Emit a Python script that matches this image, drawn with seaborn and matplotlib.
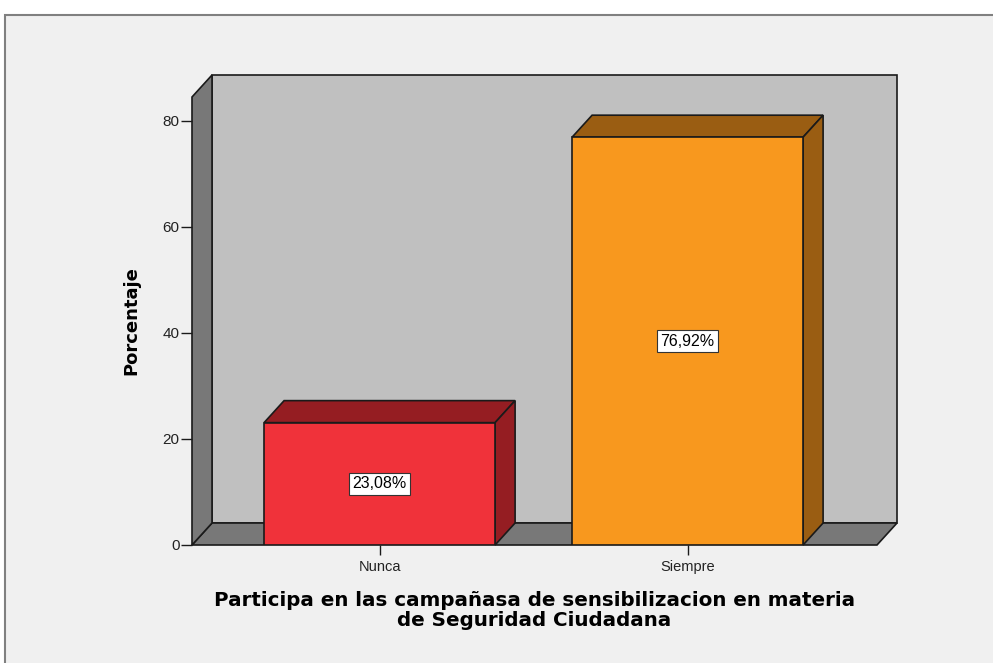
import numpy as np
import pandas as pd
import seaborn as sns
import matplotlib.pyplot as plt
from matplotlib.patches import Polygon, Rectangle

# Data
categories = ["Nunca", "Siempre"]
percentages = [23.08, 76.92]
front_colors = ["#F0323A", "#F8981E"]
dark_colors = ["#951D22", "#9A5D12"]
y_ticks = [0, 20, 40, 60, 80]

df = pd.DataFrame({"cat": categories, "pct": percentages})

sns.set_style("white")
plt.rcParams["font.family"] = ["Liberation Sans", "DejaVu Sans"]

fig = plt.figure(figsize=(9.93, 6.63), dpi=100, facecolor="white")

# outer SPSS-like frame
frame = Rectangle((5 / 993, -0.1), 1.2, (663 - 15) / 663 + 0.1,
                  transform=fig.transFigure, facecolor="#F0F0F0",
                  edgecolor="#808080", linewidth=1.5, zorder=-5)
fig.add_artist(frame)

ax = fig.add_axes([192 / 993, 118 / 663, 685 / 993, 448 / 663])
ax.set_facecolor("none")
ax.set_zorder(1)

x0, x1 = -0.609, 1.615
ytop = 84.5
dx, dy = 0.065, 4.15
ax.set_xlim(x0, x1)
ax.set_ylim(0, ytop)

# back wall, floor, side wall
wall_kw = dict(edgecolor="#1a1a1a", linewidth=1.2, clip_on=False)
ax.add_patch(Polygon([(x0 + dx, dy), (x1 + dx, dy), (x1 + dx, ytop + dy), (x0 + dx, ytop + dy)],
                     facecolor="#C0C0C0", zorder=0.2, **wall_kw))
ax.add_patch(Polygon([(x0, 0), (x1, 0), (x1 + dx, dy), (x0 + dx, dy)],
                     facecolor="#787878", zorder=0.3, **wall_kw))
ax.add_patch(Polygon([(x0, 0), (x0 + dx, dy), (x0 + dx, ytop + dy), (x0, ytop)],
                     facecolor="#787878", zorder=0.3, **wall_kw))

n_before = len(ax.patches)
sns.barplot(data=df, x="cat", y="pct", hue="cat", palette=front_colors, legend=False,
            width=0.75, edgecolor="#1a1a1a", linewidth=1.2, saturation=1, ax=ax, zorder=2)
ax.set_xlim(x0, x1)
ax.set_ylim(0, ytop)

# 3D top and side faces
for patch, dc, val in zip(ax.patches[n_before:], dark_colors, percentages):
    bx, bw, bh = patch.get_x(), patch.get_width(), patch.get_height()
    top = [(bx, bh), (bx + bw, bh), (bx + bw + dx, bh + dy), (bx + dx, bh + dy)]
    side = [(bx + bw, 0), (bx + bw + dx, dy), (bx + bw + dx, bh + dy), (bx + bw, bh)]
    for pts in (top, side):
        ax.add_patch(Polygon(pts, facecolor=dc, edgecolor="#1a1a1a", linewidth=1.2,
                             zorder=1.5, clip_on=False))
    ax.text(bx + bw / 2, bh / 2, f"{val:.2f}%".replace(".", ","), ha="center", va="center",
            fontsize=11.5, color="black", zorder=3,
            bbox=dict(boxstyle="square,pad=0.22", facecolor="white", edgecolor="#333333", linewidth=0.8))

for s in ax.spines.values():
    s.set_visible(False)

ax.set_yticks(y_ticks)
ax.set_yticklabels([str(t) for t in y_ticks])
ax.tick_params(axis="y", direction="out", length=8, width=1, color="#1a1a1a",
               labelsize=11, labelcolor="#222222", pad=1, left=True)
ax.tick_params(axis="x", direction="out", length=7, width=1, color="#1a1a1a",
               labelsize=10.5, labelcolor="#222222", pad=4, bottom=True)

ax.set_ylabel("Porcentaje", fontsize=13, fontweight="bold", labelpad=16,
              family=["DejaVu Sans"], color="black")
ax.set_xlabel("Participa en las campañasa de sensibilizacion en materia\nde Seguridad Ciudadana",
              fontsize=14.3, fontweight="bold", labelpad=12, linespacing=1.1,
              family=["DejaVu Sans"], color="black")

fig.savefig("out.png", dpi=100, facecolor="white")
